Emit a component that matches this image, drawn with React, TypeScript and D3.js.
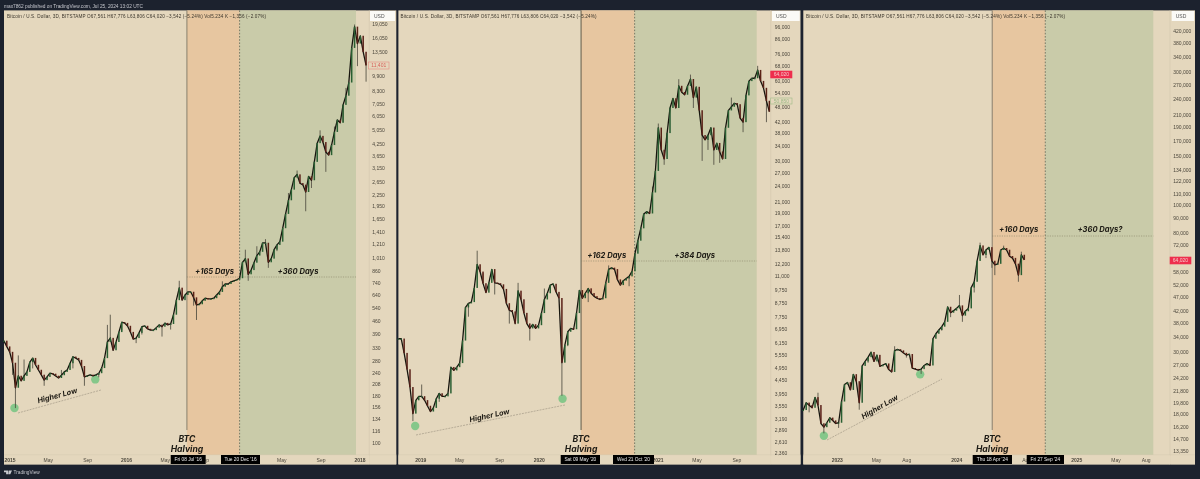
import React from "react";
import * as d3 from "d3";

const headerText = "max7862 published on TradingView.com, Jul 25, 2024 13:02 UTC";
const legendShort = "Bitcoin / U.S. Dollar, 3D, BITSTAMP  O67,561  H67,776  L63,806  C64,020  −3,542 (−5.24%)";
const legendLong = legendShort + "  Vol5.234 K  −1,356 (−2.07%)";

// ---------- Panel A: 2015 – 2018 ----------
const closesA = [360,335,313,273,200,232,218,232,244,276,290,266,250,235,220,229,240,238,232,226,234,244,250,272,295,290,283,262,229,232,235,232,235,240,256,290,355,373,320,355,402,455,450,434,402,368,373,398,430,434,418,412,412,425,440,430,450,440,445,500,600,700,600,640,665,665,620,565,570,595,615,610,610,615,640,665,710,735,735,755,765,775,790,965,1010,830,875,960,1050,1100,1230,1230,965,1010,1130,1200,1250,1480,1770,2100,2400,2790,2900,2600,2550,2330,2830,2700,3400,4300,4700,4350,3850,3700,4200,4950,5750,5550,6950,7800,9200,14200,18500,15000,16500,13500,11400];
const wickIdxA = [4,5,7,28,36,37,55,61,67,84,85,92,105,112,118,123,126,3,10,24,41,48,66,91,102,110,122,14,20,33,46,58,76,88,95,99,107,115,119];
const wickValA = [155,300,285,205,440,500,380,765,468,1130,765,900,1830,3000,5600,11300,9300,235,255,255,410,390,560,1290,3050,5050,19050,205,250,228,350,415,760,1180,1110,2300,2450,5300,8600];
const ticksA = [19050,16050,13500,9900,8300,7050,6050,5050,4250,3650,3150,2650,2250,1950,1650,1410,1210,1010,860,740,640,540,460,390,330,280,240,208,180,156,134,116,100];
const timeDatesA = ["2015-01-01","2015-05-01","2015-09-01","2016-01-01","2016-05-01","2016-09-01","2017-05-01","2017-09-01","2018-01-01"];
const timeLabelsA = ["2015","May","Sep","2016","May","Sep","May","Sep","2018"];
const halvingA = ["2016-07-08","2016-12-20","Fri 08 Jul '16","Tue 20 Dec '16"];
const daysA = ["+165 Days","+360 Days"];
const lowsDatesA = ["2015-01-15","2015-09-25"];
const lowsValuesA = [155,222];

// ---------- Panel B: 2019 – 2021 ----------
const closesB = [6400,6400,5650,4900,4200,3340,3750,3880,3880,3750,3570,3400,3510,3800,3980,3880,3880,3980,5000,4860,5000,5180,6300,8400,8700,8800,9950,12200,11450,10350,9550,10400,11700,10400,10350,10250,9850,8700,8200,8100,7300,9700,9000,8000,7300,7000,7250,7000,7200,8000,9000,9500,10200,10300,9600,9100,5200,6050,6800,7000,6950,8000,9750,9100,9500,9900,9500,9250,9100,9000,9100,10400,11700,11850,11700,10700,10200,10600,10800,11000,11500,13400,15000,16700,18900,19300,19000,22800,27500,40000,33000,30500,38200,47500,51600,47500,57500,54500,53300,57500,61000,52000,57000,46500,37500,36000,37500,40000,33000,35000,32500,30500,40000,46500,48000,49500,49000,43500,42000,53000,60000,61500,61500,66000,60000,56500,50500,46000];
const wickIdxB = [5,27,45,56,89,91,100,101,104,108,126,123,29,41,87,58,96,114,8,14,24,33,38,50,65,72,79,84,92,106,110,118];
const wickValB = [3130,13750,6300,3900,41500,29000,63500,47500,30000,29000,42000,68500,11300,10400,24000,6000,61000,52000,4300,3700,7750,9400,7300,9900,8800,12100,10100,17800,35000,33000,29500,38500];
const ticksB = [96000,86000,76000,68000,60000,54000,48000,42000,38000,34000,30000,27000,24000,21000,19000,17000,15400,13800,12200,11000,9750,8750,7750,6950,6150,5550,4950,4450,3950,3550,3190,2890,2610,2360];
const timeDatesB = ["2019-01-01","2019-05-01","2019-09-01","2020-01-01","2021-01-01","2021-05-01","2021-09-01"];
const timeLabelsB = ["2019","May","Sep","2020","2021","May","Sep"];
const halvingB = ["2020-05-09","2020-10-21","Sat 09 May '20","Wed 21 Oct '20"];
const daysB = ["+162 Days","+384 Days"];
const lowsDatesB = ["2018-12-15","2020-03-13"];
const lowsValuesB = [3000,3800];

// ---------- Panel C: 2023 – 2025 ----------
const closesC = [18650,19800,19400,19000,20700,19400,16700,16200,16800,17500,17100,16700,16800,20000,23000,23400,22000,25000,23600,19800,26800,27800,28800,30000,27800,29300,26700,27000,27300,26000,25500,30400,30700,30400,29800,29300,29500,26300,26100,25900,26100,26900,27300,26900,33500,34900,36000,37000,38500,43500,41500,42200,43000,44000,40500,42000,43000,51000,53500,63500,72000,66700,69500,71000,63500,61500,62000,69500,70500,69500,66000,65000,62000,56500,66700,64020];
const wickIdxC = [5,7,53,54,60,64,65,68,73,74,19,31,2,12,22,35,40,47,50,58,62];
const wickValC = [21500,15400,48000,38500,73800,60000,56500,72000,53500,68500,18700,31500,18300,16100,27500,28700,25100,35800,40000,49000,65000];
const ticksC = [420000,380000,340000,300000,270000,240000,210000,190000,170000,150000,134000,122000,110000,100000,90000,80000,72000,58000,52000,47000,42000,38000,34000,30000,27000,24200,21800,19800,18000,16200,14700,13350];
const timeDatesC = ["2023-01-01","2023-05-01","2023-08-01","2024-01-01","2024-08-01","2025-01-01","2025-05-01","2025-08-01"];
const timeLabelsC = ["2023","May","Aug","2024","Aug","2025","May","Aug"];
const halvingC = ["2024-04-18","2024-09-27","Thu 18 Apr '24","Fri 27 Sep '24"];
const daysC = ["+160 Days","+360 Days?"];
const lowsDatesC = ["2022-11-21","2023-09-11"];
const lowsValuesC = [15100,25000];

const C = {
  dark: "#1b202d", beige: "#e4d7bd", orange: "#e7c6a0", green: "#c9cba9",
  ink: "#1d1a14", axisText: "#4b463b",
};

const F = "Inter, 'Liberation Sans', sans-serif";
const AX = "'Liberation Sans', Roboto, sans-serif";

type Layout = {
  x0: number; x1: number; axisX: number; labelX: number; bandEnd: number;
  xCal: [string, number, string, number]; yCal: [number, number, number, number];
  start: string; legend: string; legendX: number; legendW: number; usd: [number, number];
  hl: [number, number, number, number]; hlText: [number, number, number];
  dayY: number; dotY: number; dayX: [number, number]; tagW: [number, number, number, number];
  halvingColor: string;
};

const parse = (s: string) => new Date(s + "T00:00:00Z");

function Panel(props: {
  closes: number[]; wickIdx: number[]; wickVal: number[]; ticks: number[];
  timeDates: string[]; timeLabels: string[]; halving: string[]; days: string[];
  lowsDates: string[]; lowsValues: number[]; L: Layout; children?: React.ReactNode;
}) {
  const { closes, wickIdx, wickVal, ticks, timeDates, timeLabels, halving, days, lowsDates, lowsValues, L } = props;
  const x = d3.scaleUtc().domain([parse(L.xCal[0]), parse(L.xCal[2])]).range([L.xCal[1], L.xCal[3]]);
  const y = d3.scaleLog().domain([L.yCal[0], L.yCal[2]]).range([L.yCal[1], L.yCal[3]]);
  const startT = parse(L.start).getTime();
  const dateOf = (k: number) => new Date(startT + k * 9 * 86400000);
  const xh = x(parse(halving[0]));
  const xe = x(parse(halving[1]));
  const top = 10.4, plotBottom = 455, bottom = 464.4;
  const up = "#2a5e33", down = "#5a2018";
  const closeLine = d3.line<number>().x((_, k) => x(dateOf(k))).y((c) => y(c))(closes) as string;
  return (
    <g>
      <rect x={L.x0} y={top} width={L.x1 - L.x0} height={bottom - top} fill={C.beige} />
      <rect x={xh} y={top} width={xe - xh} height={plotBottom - top} fill={C.orange} />
      <rect x={xe} y={top} width={L.bandEnd - xe} height={plotBottom - top} fill={C.green} />
      <line x1={L.axisX} x2={L.axisX} y1={top} y2={bottom} stroke="#d5c9b0" strokeWidth={0.7} />
      <line x1={L.x0} x2={L.x1} y1={plotBottom} y2={plotBottom} stroke="#d5c9b0" strokeWidth={0.7} />
      <line x1={xh} x2={xh} y1={top} y2={430} stroke={L.halvingColor} strokeWidth={0.9} />
      <line x1={xe} x2={xe} y1={top} y2={plotBottom} stroke="#5f6350" strokeWidth={0.8} strokeDasharray="1.6 1.6" />
      <line x1={xh} x2={L.bandEnd} y1={L.dotY} y2={L.dotY} stroke="#8a8468" strokeWidth={0.6} strokeDasharray="1.2 1.2" />
      <line x1={L.hl[0]} y1={L.hl[1]} x2={L.hl[2]} y2={L.hl[3]} stroke="#a49a86" strokeWidth={0.7} strokeDasharray="2 1" />

      {lowsDates.map((d, i) => (
        <circle key={d} cx={x(parse(d))} cy={y(lowsValues[i])} r={4.2} fill="#74c481" opacity={0.85} />
      ))}

      {wickIdx.map((k, i) => (
        <line key={"w" + i} x1={x(dateOf(k))} x2={x(dateOf(k))}
          y1={y(wickVal[i])} y2={y(closes[k])} stroke="#4f4c40" strokeWidth={0.85} />
      ))}
      <path d={closeLine} fill="none" stroke="#17150f" strokeWidth={1.3} strokeLinejoin="round" />
      {closes.map((c, k) => {
        const o = k === 0 ? c : closes[k - 1];
        const yo = y(o), yc = y(c);
        const hh = Math.max(Math.abs(yo - yc), 1);
        const w = 1.5;
        return (
          <rect key={k} x={x(dateOf(k)) - w / 2} width={w} y={Math.min(yo, yc) - 0.2} height={hh + 0.2}
            fill={c >= o ? up : down} />
        );
      })}

      <text x={L.legendX} y={17.5} fontFamily={AX} fontSize={4.6} fill="#3a352b" textLength={L.legendW} lengthAdjust="spacing">{L.legend}</text>

      {ticks.map((t) => (
        <text key={t} x={L.labelX} y={y(t) + 1.8} fontFamily={AX} fontSize={5} fill={C.axisText}>{d3.format(",")(t)}</text>
      ))}
      <rect x={L.usd[0]} y={11} width={L.usd[1] - L.usd[0]} height={10} fill="#fbfaf6" />
      <text x={L.usd[0] + 4} y={18} fontFamily={AX} fontSize={5} fill="#555">USD</text>

      <rect x={L.x0} y={plotBottom + 0.4} width={L.axisX - L.x0} height={bottom - plotBottom - 0.4} fill={C.beige} />
      <rect x={L.axisX + 0.4} y={plotBottom + 0.4} width={L.x1 - L.axisX - 0.4} height={bottom - plotBottom - 0.4} fill={C.beige} />
      {timeDates.map((d, i) => (
        <text key={d} x={x(parse(d))} y={462} textAnchor="middle" fontFamily={AX}
          fontSize={5} fontWeight={/^\d/.test(timeLabels[i]) ? 700 : 400} fill={C.axisText}>{timeLabels[i]}</text>
      ))}

      <rect x={L.tagW[0]} y={455} width={L.tagW[1] - L.tagW[0]} height={9} fill="#050505" />
      <rect x={L.tagW[2]} y={455} width={L.tagW[3] - L.tagW[2]} height={9} fill="#050505" />
      <text x={(L.tagW[0] + L.tagW[1]) / 2} y={461.4} textAnchor="middle" fontFamily={AX} fontSize={4.8} fill="#e8e8e8">{halving[2]}</text>
      <text x={(L.tagW[2] + L.tagW[3]) / 2} y={461.4} textAnchor="middle" fontFamily={AX} fontSize={4.8} fill="#e8e8e8">{halving[3]}</text>

      <g fontFamily={F} fontWeight={700} fontStyle="italic" fill={C.ink} textAnchor="middle">
        <text x={xh} y={442} fontSize={8.6}>BTC</text>
        <text x={xh} y={451.5} fontSize={8.6}>Halving</text>
        <text x={L.dayX[0]} y={L.dayY} fontSize={7.6}>{days[0]}</text>
        <text x={L.dayX[1]} y={L.dayY} fontSize={7.6}>{days[1]}</text>
        <text transform={`translate(${L.hlText[0]},${L.hlText[1]}) rotate(${L.hlText[2]})`} fontSize={7.4}>Higher Low</text>
      </g>
      {props.children}
    </g>
  );
}

const LA: Layout = {
  x0: 4, x1: 396.3, axisX: 369.3, labelX: 372.3, bandEnd: 356,
  xCal: ["2015-01-01", 10, "2018-01-01", 360], yCal: [100, 443, 19050, 24.5],
  start: "2014-12-13", legend: legendLong, legendX: 7, legendW: 259, usd: [370, 395],
  hl: [18, 413, 101, 390], hlText: [58, 398, -15],
  dayY: 274, dotY: 277, dayX: [214.5, 298], tagW: [170.7, 205.7, 221, 260], halvingColor: "#7d7565",
};
const LB: Layout = {
  x0: 398.4, x1: 800.5, axisX: 770.7, labelX: 774.7, bandEnd: 756.7,
  xCal: ["2019-01-01", 420.7, "2021-01-01", 658], yCal: [2610, 442, 96000, 27],
  start: "2018-10-24", legend: legendShort, legendX: 400.5, legendW: 196, usd: [772, 799.7],
  hl: [416, 435, 565, 405], hlText: [490, 418, -12],
  dayY: 257.5, dotY: 261, dayX: [606.7, 694.7], tagW: [560.7, 600, 613, 654], halvingColor: "#54503f",
};
const LC: Layout = {
  x0: 803.3, x1: 1195, axisX: 1170, labelX: 1173.3, bandEnd: 1153.3,
  xCal: ["2023-01-01", 837.3, "2025-01-01", 1076.7], yCal: [14700, 439, 420000, 31],
  start: "2022-09-19", legend: legendLong, legendX: 806, legendW: 259, usd: [1171.7, 1194],
  hl: [827, 440, 942, 379], hlText: [881, 409, -30],
  dayY: 232, dotY: 236, dayX: [1018.7, 1100], tagW: [972.7, 1012, 1026.7, 1064], halvingColor: "#7d7565",
};

function PriceTag(p: { x0: number; x1: number; y0: number; y1: number; label: string; fill: string; stroke: string; color: string }) {
  return (
    <g>
      <rect x={p.x0} y={p.y0} width={p.x1 - p.x0} height={p.y1 - p.y0} fill={p.fill} stroke={p.stroke} strokeWidth={0.6} />
      <text x={(p.x0 + p.x1) / 2} y={(p.y0 + p.y1) / 2 + 1.7} textAnchor="middle" fontFamily={AX} fontSize={5} fill={p.color}>{p.label}</text>
    </g>
  );
}

export default function App() {
  return (
    <svg width={1200} height={479} viewBox="0 0 1200 479" style={{ position: "absolute", left: 0, top: 0, display: "block" }}>
      <defs>
        <filter id="soft" x="0" y="0" width="100%" height="100%" filterUnits="objectBoundingBox">
          <feGaussianBlur stdDeviation="0.3" />
        </filter>
      </defs>
      <g filter="url(#soft)">
        <rect width={1200} height={479} fill={C.dark} />
        <text x={4} y={7.6} fontFamily={AX} fontSize={4.8} fill="#c6c8cd" textLength={139} lengthAdjust="spacing">{headerText}</text>
        <Panel closes={closesA} wickIdx={wickIdxA} wickVal={wickValA} ticks={ticksA} timeDates={timeDatesA} timeLabels={timeLabelsA}
          halving={halvingA} days={daysA} lowsDates={lowsDatesA} lowsValues={lowsValuesA} L={LA}>
          <PriceTag x0={368.5} x1={389} y0={62} y1={69} label="11,401" fill={C.beige} stroke="#e58a80" color="#d9615a" />
        </Panel>
        <Panel closes={closesB} wickIdx={wickIdxB} wickVal={wickValB} ticks={ticksB} timeDates={timeDatesB} timeLabels={timeLabelsB}
          halving={halvingB} days={daysB} lowsDates={lowsDatesB} lowsValues={lowsValuesB} L={LB}>
          <PriceTag x0={770.7} x1={792} y0={71} y1={78} label="64,020" fill="#ee2f4d" stroke="#ee2f4d" color="#f6c7c9" />
          <PriceTag x0={770.7} x1={792} y0={98} y1={104} label="50,850" fill={C.beige} stroke="#9dbb88" color="#9dbb88" />
        </Panel>
        <Panel closes={closesC} wickIdx={wickIdxC} wickVal={wickValC} ticks={ticksC} timeDates={timeDatesC} timeLabels={timeLabelsC}
          halving={halvingC} days={daysC} lowsDates={lowsDatesC} lowsValues={lowsValuesC} L={LC}>
          <PriceTag x0={1170} x1={1191} y0={257} y1={264} label="64,020" fill="#ee2f4d" stroke="#ee2f4d" color="#f6c7c9" />
        </Panel>
        <g fill="#c6c8cd">
          <path d="M4 470.6h4.4v3.6H6.1v-1.9H4zM9 470.6h3l-1.7 3.6H8.6z" />
        </g>
        <text x={13.4} y={474.4} fontFamily={AX} fontSize={4.8} fill="#c6c8cd">TradingView</text>
      </g>
    </svg>
  );
}
